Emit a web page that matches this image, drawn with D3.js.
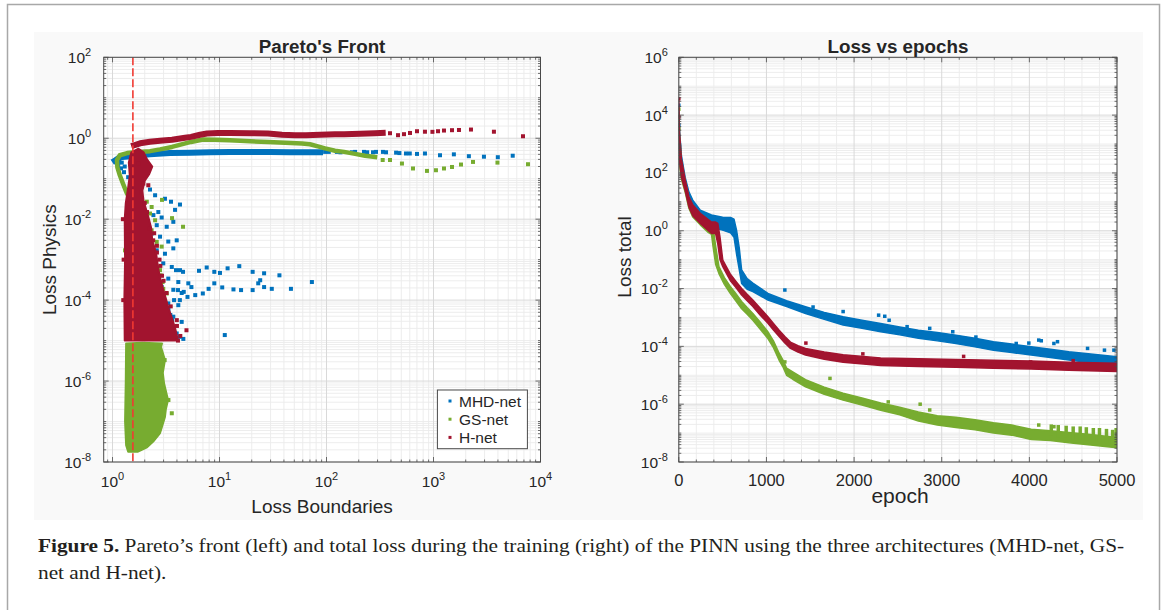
<!DOCTYPE html>
<html>
<head>
<meta charset="utf-8">
<script src="https://cdn.jsdelivr.net/npm/d3@7"></script>
<style>
  body { margin: 0; background: #fff; }
  svg text { font-family: "Liberation Sans", Arial, Helvetica, sans-serif; fill: #262626; }
</style>
</head>
<body>
<svg id="fig" width="1167" height="610"></svg>
<script>
// ---------------- data ----------------
const seriesNames  = ["MHD-net", "GS-net", "H-net"];
const seriesColors = ["#0072BD", "#77AC30", "#A2142F"];

// Pareto front: [loss boundaries, loss physics]
const mhdFront = [[1.05,0.28],[1.17,0.34],[1.46,0.36],[1.81,0.38],[2.24,0.40],[3.45,0.43],[5.3,0.44],[8.15,0.45],[12.5,0.46],[19.3,0.46],[29.6,0.46],[45.6,0.45],[64.6,0.45],[87,0.45]];
const mhdTail  = [[97,0.46],[105,0.46],[125,0.46],[135,0.45],[173,0.45],[185,0.46],[224,0.46],[240,0.45],[272,0.45],[290,0.46],[337,0.46],[360,0.45],[447,0.44],[480,0.43],[553,0.42],[600,0.42],[701,0.41],[832,0.42],[1150,0.38],[1550,0.40],[2140,0.36],[2960,0.35],[3990,0.34],[5500,0.37]];
const mhdScatter = [
  [1.1,0.3],[1.16,0.26],[1.13,0.215],[1.2,0.18],[1.22,0.25],[1.28,0.145],[1.3,0.2],[1.4,0.109],
  [1.68,0.063],[1.81,0.052],[2.24,0.054],[2.50,0.039],[3.09,0.032],[3.52,0.027],[4.27,0.023],
  [2.68,0.015],[2.88,0.011],[3.84,0.017],[2.41,0.0126],[2.59,0.0071],[3.21,0.0065],[3.70,0.0086],
  [2.32,0.0044],[2.78,0.0037],[3.32,0.0028],[3.98,0.0030],[2.59,0.0017],[3.09,0.0014],[3.70,0.0019],
  [2.41,9.7e-4],[2.98,8.1e-4],[3.58,6.6e-4],[4.27,5.5e-4],[2.59,3.8e-4],[3.32,3.4e-4],[4.12,2.8e-4],
  [2.88,2.1e-4],[3.70,1.8e-4],[4.43,1.5e-4],[2.68,1.0e-4],[3.32,8.3e-5],[4.12,7.5e-5],[2.88,4.7e-5],
  [3.70,3.9e-5],[4.43,2.9e-5],[3.09,1.8e-5],[3.98,1.5e-5],[4.59,1.1e-5],
  [3.92,5.5e-4],[4.56,5.0e-4],[6.43,5.3e-4],[7.59,6.4e-4],[8.94,5.0e-4],[10.1,4.7e-4],[11.9,6.1e-4],
  [15.3,6.9e-4],[20.4,5.0e-4],[26.1,4.6e-4],[36.3,4.1e-4],[73,2.8e-4],[5.11,2.6e-4],[5.46,2.1e-4],
  [7.91,1.9e-4],[8.94,2.6e-4],[10.6,2.06e-4],[13.5,1.84e-4],[15.9,1.77e-4],[20.4,1.77e-4],[23.0,2.6e-4],
  [24.0,3.1e-4],[26.1,2.1e-4],[30.8,1.9e-4],[46.5,1.9e-4],[4.26,1.0e-4],[5.02,1.2e-4],[5.93,1.33e-4],
  [6.98,1.46e-4],[3.33,5.7e-5],[3.47,4.3e-5],[3.61,3.2e-5],[4.26,1.24e-5],[11.2,1.37e-5],[4.09,1.77e-4],
  [4.63,1.6e-4],[3.76,1.0e-4]
];

const gsFront = [[1.81,0.0106],[1.62,0.0186],[1.51,0.0267],[1.36,0.0438],[1.25,0.077],[1.17,0.122],[1.11,0.19],[1.10,0.29],[1.17,0.38],[1.37,0.43],[1.62,0.45],[2.24,0.48],[2.78,0.53],[3.6,0.61],[5.42,0.81],[7.0,0.93],[9.1,0.92],[12.5,0.89],[19.3,0.84],[28.4,0.81],[41,0.77],[59,0.74],[70,0.71],[83,0.63],[97,0.56],[120,0.49],[146,0.46],[185,0.41],[229,0.37],[284,0.345]];
const gsTail  = [[335,0.29],[392,0.29],[507,0.237],[643,0.179],[869,0.156],[1054,0.162],[1253,0.179],[1489,0.195],[1807,0.224],[2340,0.26],[3960,0.25],[7640,0.228]];
const gsCloud = [[1.34,8.5e-6],[1.9,8.8e-6],[2.90,8.5e-6],[2.84,6.9e-6],[3.09,3.3e-6],[2.95,1.6e-6],[3.03,8.9e-7],[3.30,3.4e-7],[3.15,2.0e-7],[3.09,1.3e-7],[2.9,7.5e-8],[2.78,5.2e-8],[2.40,3.2e-8],[2.10,2.3e-8],[1.73,1.8e-8],[1.40,1.8e-8],[1.34,2.6e-8],[1.31,1e-7],[1.33,1e-6]];
const gsScatter = [
  [2.09,0.027],[2.32,0.020],[2.24,0.0138],[2.50,0.0094],[1.94,0.0065],[2.32,0.0053],[1.36,0.0030],[1.31,0.0017],
  [2.59,0.00275],[2.88,0.0021],[2.09,8.1e-4],[2.78,5.5e-4],[2.59,2.3e-4],[2.98,1.9e-4],[3.21,1.46e-4],[2.41,1.0e-4],
  [1.41,2.1e-4],[2.78,5.1e-5],[3.09,3.5e-5],[4.56,0.0065],[3.6,0.0106],[2.61,6.6e-4],[2.82,4.1e-4],[2.94,2.8e-4],
  [2.39,1.46e-4],[2.71,6.8e-5],[3.58,1.6e-7],[3.07,3.3e-6],[3.33,3.4e-7],[2.9,0.03]
];

const hFront = [[1.59,0.67],[1.81,0.75],[2.24,0.82],[2.78,0.87],[3.6,0.92],[4.76,1.03],[5.42,1.08],[6.57,1.22],[7.64,1.31],[9.68,1.35],[12.5,1.35],[19.3,1.33],[28.4,1.31],[38.4,1.22],[50.8,1.19],[64.3,1.19],[87,1.22],[120,1.26],[146,1.26],[206,1.29],[284,1.33],[335,1.35]];
const hTail  = [[392,1.33],[466,1.19],[530,1.26],[603,1.35],[701,1.49],[832,1.45],[977,1.44],[1102,1.49],[1253,1.55],[1489,1.58],[1730,1.60],[2240,1.64],[3670,1.45],[6860,1.12]];
const hCloud = [[1.30,1e-5],[1.29,1e-4],[1.31,1e-3],[1.30,0.01],[1.33,0.025],[1.40,0.06],[1.45,0.12],[1.42,0.25],[1.50,0.45],[1.75,0.55],[1.95,0.45],[2.1,0.3],[2.35,0.2],[2.2,0.13],[2.0,0.09],[1.9,0.05],[1.95,0.028],[2.15,0.012],[2.3,0.006],[2.35,0.003],[2.55,0.0015],[2.65,7e-4],[2.75,4e-4],[2.95,2e-4],[3.15,1.1e-4],[3.35,6e-5],[3.6,3.5e-5],[3.85,2e-5],[4.0,1.3e-5],[4.1,1e-5]];
const hScatter = [
  [4.91,1.8e-5],[3.99,3.2e-5],[4.09,1.0e-5],[1.94,0.076],[2.16,0.069],[1.74,0.237],[3.2,1.5e-4],[3.5,7e-5],
  [4.0,2.3e-5],[4.3,1.3e-5],[2.9,4e-4],[2.8,7e-4],[2.6,1.5e-3],[2.4,3e-3],[2.2,6e-3],[2.1,0.015],[2.0,0.025],
  [1.85,0.045],[1.25,0.01],[1.27,1e-3],[1.26,1e-4],[2.45,0.0045],[2.6,0.0022],[2.75,1e-3],[3.0,3e-4]
];

const boundaryLimit = 1.55;   // vertical dashed reference line
const paretoXTicks = [1, 10, 100, 1000, 10000];
const paretoYTicks = [1e-8, 1e-6, 1e-4, 1e-2, 1, 100];

// Loss vs epochs: envelope of the noisy loss trace per network
const mhdEpoch = [0,8,30,72,115,159,245,373,500,590,630,660,690,717,780,845,1017,1230,1446,1660,1875,2090,2304,2520,2734,2950,3162,3380,3591,3800,4021,4240,4450,4700,5000];
const mhdLow   = [2000,300,90,32,8.7,4.0,2.0,1.3,1.05,0.85,0.6,0.15,0.045,0.015,0.0095,0.0078,0.004,0.0024,0.00138,8.6e-4,5.5e-4,4.2e-4,3.2e-4,2.5e-4,1.9e-4,1.55e-4,1.26e-4,9.6e-5,7.4e-5,6.1e-5,5.0e-5,4.1e-5,3.4e-5,2.7e-5,2.0e-5];
const mhdHigh  = [2e4,3000,400,71,22,11.4,5.1,3.5,2.95,2.9,2.5,1.0,0.25,0.044,0.022,0.0155,0.0068,0.0038,0.00234,0.0015,0.00105,8.0e-4,6.2e-4,4.7e-4,3.6e-4,3.0e-4,2.45e-4,1.9e-4,1.44e-4,1.2e-4,9.7e-5,8.0e-5,6.5e-5,5.4e-5,4.4e-5];
const mhdOutliers = [[0,2.2e4],[0,4.5e3],[1210,0.0089],[1532,2.3e-3],[1875,1.6e-3],[2280,1.2e-3],[2350,1.1e-3],[2400,8e-4],[2605,4.8e-4],[2863,4.2e-4],[3126,3.2e-4],[3390,2.1e-4],[3850,1.26e-4],[3994,1.3e-4],[4107,1.65e-4],[4136,1.56e-4],[4280,1.26e-4],[4321,1.45e-4],[4664,8.5e-5],[4857,7.4e-5],[4965,7.4e-5]];

const gsEpoch = [0,8,30,72,115,159,245,330,373,390,420,458,520,587,650,717,780,845,930,1017,1080,1145,1190,1231,1300,1446,1660,1875,2090,2304,2520,2734,2950,3162,3380,3591,3800,4021,4240,4450,4700,5000];
const gsLow   = [2500,200,60,22,6,3,1.6,0.9,0.75,0.3,0.07,0.033,0.014,0.0068,0.0038,0.002,0.0013,8e-4,3.9e-4,1.85e-4,9e-5,3.3e-5,1.9e-5,9.9e-6,7.3e-6,4e-6,2.2e-6,1.38e-6,9.4e-7,6.2e-7,4.3e-7,2.6e-7,1.9e-7,1.55e-7,1.3e-7,1.0e-7,8.5e-8,6.0e-8,5.5e-8,4.6e-8,3.9e-8,3.1e-8];
const gsHigh  = [1.2e4,2000,250,55,14,7.5,3.6,2.2,1.6,1.4,0.3,0.057,0.024,0.0118,0.0067,0.0036,0.0022,1.38e-3,6.8e-4,3.2e-4,1.55e-4,5.8e-5,3.3e-5,1.75e-5,1.3e-5,7e-6,3.9e-6,2.4e-6,1.65e-6,1.1e-6,7.9e-7,5.4e-7,4.0e-7,3.5e-7,2.9e-7,2.3e-7,1.9e-7,1.35e-7,1.2e-7,1.05e-7,9e-8,7e-8];
const gsOutliers = [[0,1.6e4],[0,3.4e3],[1210,2.9e-5],[1725,7.8e-6],[2390,1.2e-6],[2754,1.0e-6],[2863,6.3e-7],[4107,1.9e-7],[4280,1.66e-7]];
// late-training spikes: [epoch, top, bottom]
const gsSpikes = [[4250,2.0e-7,8e-8],[4330,1.9e-7,7e-8],[4420,1.8e-7,7e-8],[4500,1.7e-7,6e-8],[4580,1.7e-7,6e-8],[4650,1.6e-7,5.5e-8],[4730,1.5e-7,5e-8],[4800,1.5e-7,5e-8],[4880,1.4e-7,4.5e-8],[4950,1.3e-7,4e-8],[4990,1.5e-7,4e-8]];

const hEpoch = [0,8,30,72,115,159,245,373,420,445,470,502,545,587,650,717,780,845,930,1017,1080,1145,1210,1274,1360,1446,1660,1875,2304,2734,3162,3591,4021,4450,5000];
const hLow   = [3000,250,70,25,6.7,3.3,1.8,0.81,0.8,0.35,0.1,0.057,0.033,0.019,0.011,0.006,0.0038,0.0024,0.0012,6.3e-4,3.7e-4,2.2e-4,1.3e-4,8.5e-5,6.3e-5,5.0e-5,3.6e-5,2.8e-5,2.2e-5,2.0e-5,1.9e-5,1.75e-5,1.65e-5,1.5e-5,1.35e-5];
const hHigh  = [3.4e4,2500,300,60,15,8,4,2.0,2.0,1.8,0.6,0.096,0.055,0.032,0.018,0.010,0.0063,0.004,0.0021,1.05e-3,6.2e-4,3.6e-4,2.2e-4,1.4e-4,1.05e-4,8.4e-5,6.4e-5,5.1e-5,4.0e-5,3.7e-5,3.5e-5,3.3e-5,3.1e-5,2.8e-5,2.6e-5];
const hOutliers = [[0,3.7e4],[0,8.7e3],[1450,1.3e-4],[2100,5.5e-5],[3250,4.5e-5],[4014,2.9e-5],[4500,3.2e-5]];

const epochTicks = [0, 1000, 2000, 3000, 4000, 5000];
const lossYTicks = [1e-8, 1e-6, 1e-4, 1e-2, 1, 100, 1e4, 1e6];

const captionBold = "Figure 5.";
const captionLine1 = " Pareto\u2019s front (left) and total loss during the training (right) of the PINN using the three architectures (MHD-net, GS-";
const captionLine2 = "net and H-net).";

// ---------------- layout ----------------
const svg = d3.select("#fig");

// page frame and figure backdrop
svg.append("rect").attr("x", 7.5).attr("y", 4.5).attr("width", 1152).attr("height", 640)
  .attr("fill", "#fff").attr("stroke", "#a8a8a8").attr("stroke-width", 1.5);
svg.append("rect").attr("x", 34).attr("y", 32).attr("width", 1109).attr("height", 488).attr("fill", "#f9f9f9");

const left  = { x0: 103.7, x1: 540.5, y0: 57.3, y1: 462 };
const right = { x0: 678.8, x1: 1117,  y0: 57.3, y1: 462 };

const xPareto = d3.scaleLog().domain([0.827, 1e4]).range([left.x0, left.x1]);
const yPareto = d3.scaleLog().domain([1e-8, 1e2]).range([left.y1, left.y0]);
const xEpoch  = d3.scaleLinear().domain([0, 5000]).range([right.x0, right.x1]);
const yLoss   = d3.scaleLog().domain([1e-8, 1e6]).range([right.y1, right.y0]);

function logMinors(lo, hi) {
  const out = [];
  for (let n = Math.floor(Math.log10(lo)); n < Math.ceil(Math.log10(hi)); n++)
    for (let k = 1; k <= 9; k++) {
      const v = k * Math.pow(10, n);
      if (v >= lo * 0.9999 && v <= hi * 1.0001) out.push(v);
    }
  return out;
}

function powLabel(sel, v, supSize) {
  const e = Math.round(Math.log10(v));
  sel.text("10");
  sel.append("tspan").attr("dy", -7).attr("font-size", supSize).text(e);
}

function axesFrame(box, id, xs, ys, xMajor, xMinor, yMajor, yMinor) {
  const g = svg.append("g");
  g.append("rect").attr("x", box.x0).attr("y", box.y0)
    .attr("width", box.x1 - box.x0).attr("height", box.y1 - box.y0).attr("fill", "#fff");
  const grid = g.append("g");
  xMinor.forEach(v => grid.append("line").attr("x1", xs(v)).attr("x2", xs(v)).attr("y1", box.y0).attr("y2", box.y1)
    .attr("stroke", "#ebebeb").attr("stroke-width", 0.9));
  yMinor.forEach(v => grid.append("line").attr("y1", ys(v)).attr("y2", ys(v)).attr("x1", box.x0).attr("x2", box.x1)
    .attr("stroke", "#ebebeb").attr("stroke-width", 0.9));
  xMajor.forEach(v => grid.append("line").attr("x1", xs(v)).attr("x2", xs(v)).attr("y1", box.y0).attr("y2", box.y1)
    .attr("stroke", "#d9d9d9").attr("stroke-width", 1));
  yMajor.forEach(v => grid.append("line").attr("y1", ys(v)).attr("y2", ys(v)).attr("x1", box.x0).attr("x2", box.x1)
    .attr("stroke", "#d9d9d9").attr("stroke-width", 1));
  svg.append("clipPath").attr("id", id).append("rect")
    .attr("x", box.x0).attr("y", box.y0).attr("width", box.x1 - box.x0).attr("height", box.y1 - box.y0);
  return svg.append("g").attr("clip-path", `url(#${id})`);
}

function axesBox(box, xs, ys, xMajor, xMinor, yMajor, yMinor) {
  const g = svg.append("g").attr("stroke", "#4a4a4a").attr("fill", "none");
  g.append("rect").attr("x", box.x0).attr("y", box.y0)
    .attr("width", box.x1 - box.x0).attr("height", box.y1 - box.y0).attr("stroke-width", 1);
  const tick = (v, len, horiz) => {
    if (horiz) {
      const x = xs(v);
      g.append("line").attr("x1", x).attr("x2", x).attr("y1", box.y1).attr("y2", box.y1 - len).attr("stroke-width", 0.8);
      g.append("line").attr("x1", x).attr("x2", x).attr("y1", box.y0).attr("y2", box.y0 + len).attr("stroke-width", 0.8);
    } else {
      const y = ys(v);
      g.append("line").attr("y1", y).attr("y2", y).attr("x1", box.x0).attr("x2", box.x0 + len).attr("stroke-width", 0.8);
      g.append("line").attr("y1", y).attr("y2", y).attr("x1", box.x1).attr("x2", box.x1 - len).attr("stroke-width", 0.8);
    }
  };
  xMinor.forEach(v => tick(v, 2.5, true));
  yMinor.forEach(v => tick(v, 2.5, false));
  xMajor.forEach(v => tick(v, 5, true));
  yMajor.forEach(v => tick(v, 5, false));
}

function squares(g, pts, xs, ys, color, size) {
  g.selectAll(null).data(pts).join("rect")
    .attr("x", d => xs(d[0]) - size / 2).attr("y", d => ys(d[1]) - size / 2)
    .attr("width", size).attr("height", size).attr("fill", color);
}

// ================= Pareto's front =================
{
  const xMinor = logMinors(0.827, 1e4).filter(v => !paretoXTicks.includes(v));
  const yMinor = logMinors(1e-8, 1e2).filter(v => !paretoYTicks.some(t => Math.abs(t - v) / t < 1e-6));
  const plot = axesFrame(left, "clipPareto", xPareto, yPareto, paretoXTicks, xMinor, paretoYTicks, yMinor);

  const line = d3.line().x(d => xPareto(d[0])).y(d => yPareto(d[1])).curve(d3.curveLinear);
  const poly = pts => "M" + pts.map(d => [xPareto(d[0]), yPareto(d[1])].join(",")).join("L") + "Z";

  // MHD-net
  plot.append("path").attr("d", line(mhdFront)).attr("fill", "none").attr("stroke", seriesColors[0])
    .attr("stroke-width", 6).attr("stroke-linejoin", "round").attr("stroke-linecap", "square");
  squares(plot, mhdTail, xPareto, yPareto, seriesColors[0], 4);
  squares(plot, mhdScatter, xPareto, yPareto, seriesColors[0], 4);

  // GS-net
  plot.append("path").attr("d", poly(gsCloud)).attr("fill", seriesColors[1])
    .attr("stroke", seriesColors[1]).attr("stroke-width", 2).attr("stroke-linejoin", "round");
  plot.append("path").attr("d", line(gsFront)).attr("fill", "none").attr("stroke", seriesColors[1])
    .attr("stroke-width", 4.5).attr("stroke-linejoin", "round").attr("stroke-linecap", "square");
  squares(plot, gsTail, xPareto, yPareto, seriesColors[1], 4);
  squares(plot, gsScatter, xPareto, yPareto, seriesColors[1], 4);

  // H-net
  plot.append("path").attr("d", poly(hCloud)).attr("fill", seriesColors[2])
    .attr("stroke", seriesColors[2]).attr("stroke-width", 2).attr("stroke-linejoin", "round");
  plot.append("path").attr("d", line(hFront)).attr("fill", "none").attr("stroke", seriesColors[2])
    .attr("stroke-width", 6).attr("stroke-linejoin", "round").attr("stroke-linecap", "square");
  squares(plot, hTail, xPareto, yPareto, seriesColors[2], 4);
  squares(plot, hScatter, xPareto, yPareto, seriesColors[2], 4);

  // reference limit
  plot.append("line").attr("x1", xPareto(boundaryLimit)).attr("x2", xPareto(boundaryLimit))
    .attr("y1", left.y0).attr("y2", left.y1)
    .attr("stroke", "#f03a32").attr("stroke-width", 1.6).attr("stroke-dasharray", "8,3");

  axesBox(left, xPareto, yPareto, paretoXTicks, xMinor, paretoYTicks, yMinor);

  // tick labels
  paretoYTicks.forEach(v => {
    const t = svg.append("text").attr("x", left.x0 - 12.5).attr("y", yPareto(v) + 5.5)
      .attr("text-anchor", "end").attr("font-size", 15.5);
    powLabel(t, v, 11);
  });
  paretoXTicks.forEach(v => {
    const t = svg.append("text").attr("x", xPareto(v)).attr("y", 487)
      .attr("text-anchor", "middle").attr("font-size", 15.5);
    powLabel(t, v, 11);
  });

  svg.append("text").attr("x", (left.x0 + left.x1) / 2).attr("y", 52.5).attr("text-anchor", "middle")
    .attr("font-size", 18.8).attr("font-weight", "bold").text("Pareto's Front");
  svg.append("text").attr("x", (left.x0 + left.x1) / 2).attr("y", 513).attr("text-anchor", "middle")
    .attr("font-size", 19).text("Loss Boundaries");
  svg.append("text").attr("transform", `translate(56,${(left.y0 + left.y1) / 2}) rotate(-90)`)
    .attr("text-anchor", "middle").attr("font-size", 19).text("Loss Physics");

  // legend
  const lg = svg.append("g");
  lg.append("rect").attr("x", 437.4).attr("y", 390).attr("width", 90).attr("height", 58.7)
    .attr("fill", "#fff").attr("stroke", "#4a4a4a").attr("stroke-width", 1);
  seriesNames.forEach((name, i) => {
    const cy = 401 + i * 18.2;
    lg.append("rect").attr("x", 448.5).attr("y", cy - 1.5).attr("width", 3).attr("height", 3).attr("fill", seriesColors[i]);
    lg.append("text").attr("x", 459).attr("y", cy + 5.5).attr("font-size", 15.5).text(name);
  });
}

// ================= Loss vs epochs =================
{
  const xMinor = d3.range(0, 5001, 200).filter(v => !epochTicks.includes(v));
  const yMinor = logMinors(1e-8, 1e6).filter(v => !lossYTicks.some(t => Math.abs(t - v) / t < 1e-6));
  const plot = axesFrame(right, "clipLoss", xEpoch, yLoss, epochTicks, xMinor, lossYTicks, yMinor);

  const band = d3.area().x(d => xEpoch(d.e)).y0(d => yLoss(d.lo)).y1(d => yLoss(d.hi)).curve(d3.curveLinear);
  const rows = (E, L, H) => E.map((e, i) => ({ e, lo: L[i], hi: H[i] }));

  const traces = [
    { rows: rows(mhdEpoch, mhdLow, mhdHigh), out: mhdOutliers, color: seriesColors[0] },
    { rows: rows(gsEpoch, gsLow, gsHigh),    out: gsOutliers,  color: seriesColors[1] },
    { rows: rows(hEpoch, hLow, hHigh),       out: hOutliers,   color: seriesColors[2] }
  ];
  traces.forEach((t, i) => {
    plot.append("path").attr("d", band(t.rows)).attr("fill", t.color)
      .attr("stroke", t.color).attr("stroke-width", 1.5).attr("stroke-linejoin", "round");
    squares(plot, t.out, xEpoch, yLoss, t.color, 3.5);
    if (i === 1) {
      plot.selectAll(null).data(gsSpikes).join("line")
        .attr("x1", d => xEpoch(d[0])).attr("x2", d => xEpoch(d[0]))
        .attr("y1", d => yLoss(d[1])).attr("y2", d => yLoss(d[2]))
        .attr("stroke", t.color).attr("stroke-width", 3.5);
    }
  });

  axesBox(right, xEpoch, yLoss, epochTicks, xMinor, lossYTicks, yMinor);

  lossYTicks.forEach(v => {
    const t = svg.append("text").attr("x", right.x0 - 11).attr("y", yLoss(v) + 5.5)
      .attr("text-anchor", "end").attr("font-size", 15.5);
    powLabel(t, v, 11);
  });
  epochTicks.forEach(v => {
    svg.append("text").attr("x", xEpoch(v)).attr("y", 486).attr("text-anchor", "middle")
      .attr("font-size", 16.5).text(v);
  });

  svg.append("text").attr("x", (right.x0 + right.x1) / 2).attr("y", 52.5).attr("text-anchor", "middle")
    .attr("font-size", 18.8).attr("font-weight", "bold").text("Loss vs epochs");
  svg.append("text").attr("x", 900).attr("y", 503).attr("text-anchor", "middle")
    .attr("font-size", 21).text("epoch");
  svg.append("text").attr("transform", `translate(631,257) rotate(-90)`)
    .attr("text-anchor", "middle").attr("font-size", 19).text("Loss total");
}

// ================= caption =================
{
  const cap = svg.append("g");
  const l1 = cap.append("text").attr("font-size", 18)
    .style("font-family", "'Liberation Serif', 'Times New Roman', serif").style("fill", "#231f20");
  l1.append("tspan").attr("font-weight", "bold").text(captionBold);
  l1.append("tspan").text(captionLine1);
  const w = l1.node().getComputedTextLength();
  const sx = 1087 / w;
  l1.attr("transform", `translate(38,552) scale(${sx},1)`);
  cap.append("text").attr("font-size", 18)
    .style("font-family", "'Liberation Serif', 'Times New Roman', serif").style("fill", "#231f20")
    .attr("transform", `translate(38,579) scale(${sx},1)`).text(captionLine2);
}
</script>
</body>
</html>
